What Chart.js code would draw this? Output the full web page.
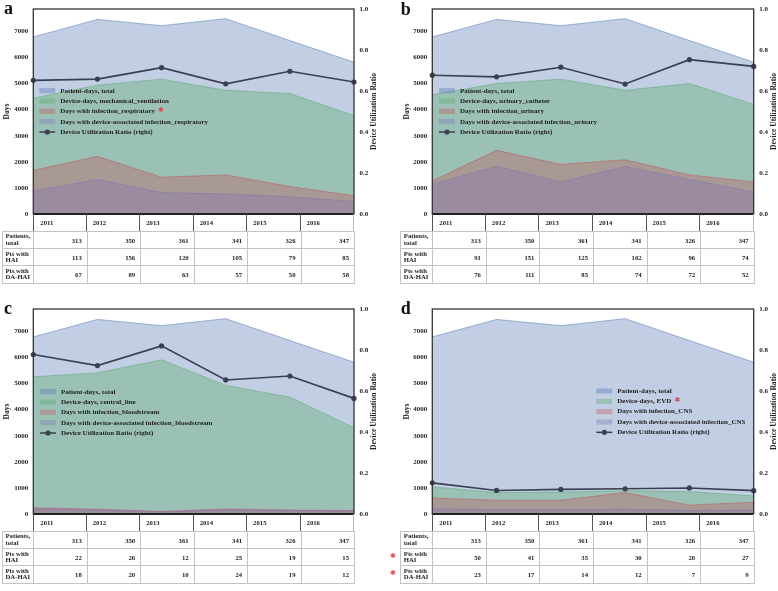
<!DOCTYPE html>
<html><head><meta charset="utf-8">
<script src="https://cdn.jsdelivr.net/npm/chart.js@4.4.0/dist/chart.umd.min.js"></script>
<style>
body{margin:0;background:#fff;}
#root{position:relative;width:778px;height:591px;overflow:hidden;background:#fff;font-family:"Liberation Serif","Times New Roman",serif;}
canvas{position:absolute;}
.cell{position:absolute;box-sizing:border-box;font-weight:bold;font-size:6.7px;color:#222;display:flex;align-items:center;white-space:nowrap;}
.val{justify-content:flex-end;padding-right:5px;border:1px solid #c4c4c4;}
.lab{justify-content:flex-start;padding-left:2.5px;border:1px solid #c4c4c4;}
.lab span{line-height:1;display:block;}
.yr{justify-content:flex-start;padding-left:6px;border-right:1px solid #555;}
.star{position:absolute;color:#e0474f;font-family:"DejaVu Sans",sans-serif;font-size:7px;line-height:1;}
</style></head><body><div id="root"></div>
<script>
const years = ['2011','2012','2013','2014','2015','2016'];
const patientDays = [6790,7460,7220,7490,6650,5820];
// panel a: respiratory
const ventDays = [4440,4940,5170,4740,4620,3770];
const respInfDays = [1670,2210,1410,1500,1050,700];
const respDAInfDays = [880,1320,820,770,660,480];
const respDUR = [0.652,0.658,0.714,0.635,0.696,0.644];
// panel b: urinary
const urinaryDays = [4570,5000,5170,4740,5000,4200];
const urinaryInfDays = [1270,2440,1900,2080,1500,1230];
const urinaryDAInfDays = [1150,1830,1230,1820,1320,840];
const urinaryDUR = [0.677,0.669,0.716,0.634,0.753,0.720];
// panel c: bloodstream
const centralDays = [5260,5410,5910,4930,4480,3310];
const bloodInfDays = [240,180,100,190,150,130];
const bloodDAInfDays = [210,160,80,170,140,110];
const centralDUR = [0.778,0.724,0.820,0.654,0.673,0.564];
// panel d: CNS
const evdDays = [1040,820,840,890,860,690];
const cnsInfDays = [610,530,530,820,340,450];
const cnsDAInfDays = [200,170,170,180,140,140];
const evdDUR = [0.152,0.115,0.120,0.123,0.127,0.114];
// tables
const patientsTotal = [313,350,361,341,326,347];
const haiA = [113,156,120,105,79,85];
const daHaiA = [67,89,63,57,50,58];
const haiB = [91,151,125,102,96,74];
const daHaiB = [76,111,85,74,72,52];
const haiC = [22,26,12,25,19,15];
const daHaiC = [18,20,10,24,19,12];
const haiD = [50,41,35,30,20,27];
const daHaiD = [23,17,14,12,7,9];
const rowLabels = [['Patients,','total'],['Pts with','HAI'],['Pts with','DA-HAI']];
const leftTicks = [0,1000,2000,3000,4000,5000,6000,7000];
const rightTicks = [0,0.2,0.4,0.6,0.8,1.0];

const BLUE='#4C72B0', GREEN='#55A868', RED='#C44E52', PURPLE='#8172B2', DARK='#3b4050';
const FONT='"Liberation Serif","Times New Roman",serif';
function rgba(hex,a){const n=parseInt(hex.slice(1),16);return 'rgba('+(n>>16)+','+((n>>8)&255)+','+(n&255)+','+a+')';}

const panels = [
 {letter:'a',x0:0,y0:0,L:33.3,R:354,T:4.3,B:219,tableL:2,letterX:4,letterY:14,daysX:6.7,ratioX:374.5,legendX:39.3,legendY:90.7,starIdx:2,
  deviceLabel:'Device-days, mechanical_ventilation',infLabel:'Days with infection_respiratory',daLabel:'Days with device-associated infection_respiratory',
  device:ventDays,inf:respInfDays,da:respDAInfDays,dur:respDUR,hai:haiA,dahai:daHaiA},
 {letter:'b',x0:388,y0:0,L:44.3,R:365.7,T:4.3,B:219,tableL:12.3,letterX:12.7,letterY:15,daysX:19.3,ratioX:386,legendX:51,legendY:90.7,starIdx:-1,
  deviceLabel:'Device-days, urinary_catheter',infLabel:'Days with infection_urinary',daLabel:'Days with device-associated infection_urinary',
  device:urinaryDays,inf:urinaryInfDays,da:urinaryDAInfDays,dur:urinaryDUR,hai:haiB,dahai:daHaiB},
 {letter:'c',x0:0,y0:300,L:33.3,R:354,T:5,B:220,tableL:2,letterX:4,letterY:14,daysX:6.7,ratioX:374.5,legendX:40,legendY:91.7,starIdx:-1,
  deviceLabel:'Device-days, central_line',infLabel:'Days with infection_bloodstream',daLabel:'Days with device-associated infection_bloodstream',
  device:centralDays,inf:bloodInfDays,da:bloodDAInfDays,dur:centralDUR,hai:haiC,dahai:daHaiC},
 {letter:'d',x0:388,y0:300,L:44.3,R:365.7,T:5,B:220,tableL:12.3,letterX:12.7,letterY:14,daysX:19.3,ratioX:386,legendX:208.3,legendY:91,starIdx:1,tableStars:true,
  deviceLabel:'Device-days, EVD',infLabel:'Days with infection_CNS',daLabel:'Days with device-associated infection_CNS',
  device:evdDays,inf:cnsInfDays,da:cnsDAInfDays,dur:evdDUR,hai:haiD,dahai:daHaiD}
];

const decor = {
  id:'decor',
  afterDatasetsDraw(chart, args, opts){
    const p = opts.panel, ctx = chart.ctx, a = chart.chartArea;
    ctx.save();
    ctx.strokeStyle='#333'; ctx.lineWidth=1.3;
    ctx.strokeRect(a.left,a.top,a.right-a.left,a.bottom-a.top);
    ctx.strokeStyle='#222'; ctx.lineWidth=1.8;
    ctx.beginPath(); ctx.moveTo(a.left,a.bottom); ctx.lineTo(a.right,a.bottom); ctx.stroke();
    // panel letter
    ctx.fillStyle='#111'; ctx.font='bold 18px '+FONT; ctx.textAlign='left'; ctx.textBaseline='alphabetic';
    ctx.fillText(p.letter,p.letterX,p.letterY);
    // axis titles
    const cy=(a.top+a.bottom)/2;
    ctx.fillStyle='#222'; ctx.font='bold 7.6px '+FONT; ctx.textAlign='center'; ctx.textBaseline='middle';
    ctx.save(); ctx.translate(p.daysX,cy); ctx.rotate(-Math.PI/2); ctx.fillText('Days',0,0); ctx.restore();
    ctx.save(); ctx.translate(p.ratioX,cy); ctx.rotate(-Math.PI/2); ctx.fillText('Device Utilization Ratio',0,0); ctx.restore();
    // legend
    ctx.font='bold 7px '+FONT; ctx.textAlign='left'; ctx.textBaseline='middle';
    chart.data.datasets.forEach((ds,i)=>{
      const y=p.legendY+i*10.33, x=p.legendX;
      if(ds.yAxisID==='y1'){
        ctx.strokeStyle=DARK; ctx.lineWidth=1.5;
        ctx.beginPath(); ctx.moveTo(x,y); ctx.lineTo(x+16,y); ctx.stroke();
        ctx.fillStyle=DARK; ctx.beginPath(); ctx.arc(x+8,y,2.6,0,Math.PI*2); ctx.fill();
      } else {
        ctx.fillStyle=ds.backgroundColor; ctx.fillRect(x,y-2.6,16,5.2);
      }
      ctx.fillStyle='#222';
      ctx.fillText(ds.label,x+21,y);
      if(i===p.starIdx){
        const w=ctx.measureText(ds.label).width;
        ctx.save(); ctx.fillStyle='#e0474f'; ctx.font='7px "DejaVu Sans",sans-serif'; ctx.textAlign='center';
        ctx.fillText('\u2731',x+21+w+6,y-1); ctx.restore();
      }
    });
    ctx.restore();
  }
};

function area(label,data,color,order){
  return {label,data,yAxisID:'y',fill:'origin',backgroundColor:rgba(color,0.35),borderColor:rgba(color,0.5),borderWidth:1,pointRadius:0,tension:0,order};
}

const root=document.getElementById('root');
const tickFont={family:FONT,weight:'bold',size:7,lineHeight:1};

function div(cls,x,y,w,h,html){
  const d=document.createElement('div'); d.className=cls;
  d.style.left=x+'px'; d.style.top=y+'px'; d.style.width=w+'px'; d.style.height=h+'px';
  d.innerHTML=html; root.appendChild(d); return d;
}

panels.forEach(p=>{
  const cv=document.createElement('canvas');
  cv.width=390; cv.height=223;
  cv.style.left=p.x0+'px'; cv.style.top=p.y0+'px'; cv.style.width='390px'; cv.style.height='223px';
  root.appendChild(cv);
  const datasets=[
    area('Patient-days, total',patientDays,BLUE,4),
    area(p.deviceLabel,p.device,GREEN,3),
    area(p.infLabel,p.inf,RED,2),
    area(p.daLabel,p.da,PURPLE,1),
    {label:'Device Utilization Ratio (right)',data:p.dur,yAxisID:'y1',borderColor:DARK,backgroundColor:DARK,borderWidth:1.6,pointRadius:2.6,pointBorderWidth:0,fill:false,tension:0,order:0}
  ];
  const chart=new Chart(cv,{
    type:'line',
    data:{labels:years,datasets},
    options:{
      responsive:false,animation:false,events:[],
      layout:{padding:{top:p.T,bottom:223-p.B,left:0,right:0}},
      plugins:{legend:{display:false},tooltip:{enabled:false},decor:{panel:p}},
      scales:{
        x:{type:'category',display:false,offset:false},
        y:{position:'left',min:0,max:7860,
           afterFit(s){s.width=p.L;},
           afterBuildTicks(s){s.ticks=leftTicks.map(v=>({value:v}));},
           ticks:{font:tickFont,color:'#222',padding:5,callback:v=>String(v)},
           grid:{display:false,drawTicks:false},border:{display:false}},
        y1:{position:'right',min:0,max:1,
           afterFit(s){s.width=390-p.R;},
           afterBuildTicks(s){s.ticks=rightTicks.map(v=>({value:v}));},
           ticks:{font:tickFont,color:'#222',padding:5.5,callback:v=>Number(v).toFixed(1)},
           grid:{display:false,drawTicks:false},border:{display:false}}
      }
    },
    plugins:[decor]
  });
  // table
  const a=chart.chartArea;
  const L=p.x0+a.left, R=p.x0+a.right, top=p.y0+a.bottom;
  const cw=(R-L)/6, YH=17, RH=17.2;
  years.forEach((yr,i)=>{
    const d=div('cell yr',L+i*cw,top,cw,YH,yr);
    if(i===0) d.style.borderLeft='1px solid #555';
    if(i===5) d.style.borderRight='1px solid #bbb';
  });
  const rows=[patientsTotal,p.hai,p.dahai];
  rows.forEach((vals,r)=>{
    const y=top+YH+r*RH;
    div('cell lab',p.x0+p.tableL,y,L-(p.x0+p.tableL)+1,RH+1,'<span>'+rowLabels[r][0]+'<br>'+rowLabels[r][1]+'</span>');
    vals.forEach((v,i)=>{ div('cell val',L+i*cw,y,cw+1,RH+1,String(v)); });
    if(p.tableStars && r>0){
      const s=document.createElement('div'); s.className='star'; s.textContent='\u2731';
      s.style.left=(p.x0+2)+'px'; s.style.top=(y+RH/2-4)+'px'; root.appendChild(s);
    }
  });
});
</script></body></html>
